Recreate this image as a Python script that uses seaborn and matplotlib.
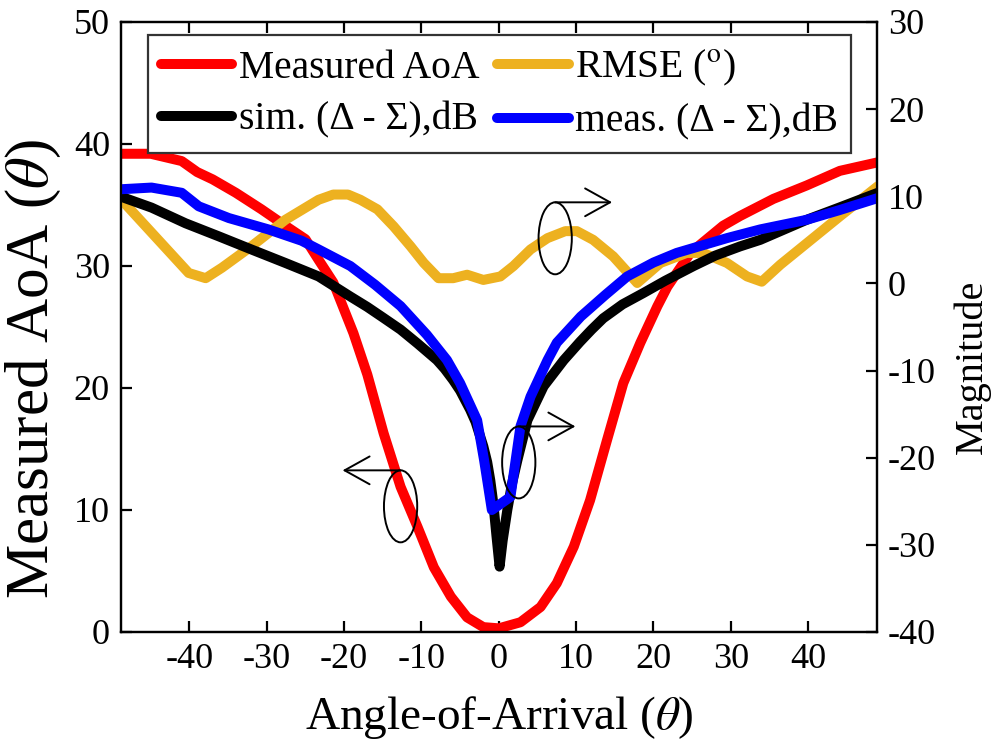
import numpy as np
import pandas as pd
import matplotlib
matplotlib.use('Agg')
import matplotlib.pyplot as plt
import seaborn as sns
from matplotlib.patches import Ellipse
from matplotlib.lines import Line2D

# ---- data ----
aoa_x = [-49, -45, -41, -39, -37, -34, -30.7, -27.6, -25, -23.3, -21.4, -18.8, -17, -14.9,
         -12.7, -10.5, -8.4, -6.2, -4.1, -2, 0, 2.8, 5.4, 7.5, 9.7, 11.8, 14, 16.1, 18.3,
         20.5, 21.8, 24.8, 29, 31.2, 35.5, 39.8, 44.1, 49]
aoa_y = [39.2, 39.2, 38.6, 37.7, 37.1, 36.0, 34.65, 33.3, 32.2, 30.5, 28.65, 24.5, 21.1, 16.3,
         11.9, 8.6, 5.3, 2.9, 1.2, 0.4, 0.3, 0.8, 2.05, 4.0, 7.0, 10.8, 15.75, 20.4, 23.7,
         26.7, 28.3, 31.1, 33.3, 34.1, 35.5, 36.6, 37.8, 38.5]

rmse_x = [-49, -40.1, -37.9, -35.8, -32, -27.6, -23.3, -21.4, -19.5, -17.9, -15.7, -13.6,
          -11.4, -9.7, -7.8, -5.9, -4.1, -2, 0.2, 1.9, 4.1, 6.3, 8.6, 10.1, 12.2, 14.8, 17.9,
          20.9, 24.3, 26.4, 29.5, 32.1, 34, 36.4, 39.8, 44.1, 49]
rmse_y = [9.8, 1.2, 0.6, 1.8, 4.25, 7.3, 9.6, 10.2, 10.2, 9.6, 8.5, 6.55, 4.25, 2.35, 0.6,
          0.6, 1.0, 0.4, 0.8, 2.0, 3.9, 5.2, 6.0, 6.0, 5.0, 3.1, 0.05, 2.35, 3.5, 3.5, 2.35,
          0.8, 0.2, 2.15, 4.6, 7.7, 11.15]

sim_x = [-49, -44.9, -40.5, -36.2, -32, -27.6, -23.3, -19.2, -17, -15, -12.7, -10.5, -8,
         -7, -5.9, -5, -3.7, -3, -2, -1.5, -1.1, -0.7, -0.3, 0.1, 0.5, 1.1, 1.7, 2.4, 3.7,
         5.8, 8.4, 10.5, 12, 13.5, 16, 18.7, 21.5, 25.2, 28, 31.2, 33.8, 39.8, 44, 49]
sim_y = [10.0, 8.7, 6.9, 5.4, 3.9, 2.35, 0.8, -1.5, -2.7, -3.9, -5.3, -6.9, -8.8,
         -9.8, -11.1, -12.3, -14.5, -15.9, -18.7, -20.5, -22.6, -25.3, -29.0, -32.5, -29.5,
         -26.0, -23.0, -20.3, -15.7, -11.8, -8.8, -6.7, -5.3, -4.0, -2.4, -1.1, 0.3, 2.0,
         3.2, 4.25, 5.0, 7.3, 8.7, 10.4]

meas_x = [-49, -44.9, -41, -38.8, -34.9, -29.8, -25.5, -23.3, -19.2, -16, -12.7, -9.3, -6.7,
          -5, -2.8, -1.9, -0.9, 1.5, 2.8, 4.1, 6.3, 7.5, 10.6, 13.8, 16.6, 20, 23, 29.5,
          33.8, 39.8, 44, 49]
meas_y = [10.8, 11.0, 10.4, 8.85, 7.5, 6.2, 4.9, 3.9, 2.0, -0.15, -2.6, -5.9, -8.8,
          -11.45, -15.7, -20.3, -26.0, -24.5, -16.4, -13.0, -8.8, -6.8, -3.8, -1.3, 0.8,
          2.4, 3.5, 5.2, 6.2, 7.3, 8.4, 9.8]

x_ticks = [-40, -30, -20, -10, 0, 10, 20, 30, 40]
left_ticks = [0, 10, 20, 30, 40, 50]
right_ticks = [-40, -30, -20, -10, 0, 10, 20, 30]

labels = ['Measured AoA', 'sim. (\u0394 - \u03a3),dB', 'RMSE ($^{\\rm o}$)',
          'meas. (\u0394 - \u03a3),dB']
colors = {'aoa': '#FF0000', 'rmse': '#EDB120', 'sim': '#000000', 'meas': '#0000FF'}

# ---- style ----
sns.set_style('ticks')
plt.rcParams['font.family'] = ['Liberation Serif', 'DejaVu Serif']
plt.rcParams['mathtext.fontset'] = 'stix'
plt.rcParams['axes.unicode_minus'] = False
for k in ('text.color', 'axes.labelcolor', 'xtick.color', 'ytick.color', 'axes.edgecolor'):
    plt.rcParams[k] = 'black'

LW = 7.2
fig = plt.figure(figsize=(9.97, 7.47), dpi=100)
ax = fig.add_axes([121 / 997, 1 - 632 / 747, 756 / 997, 610 / 747])
ax2 = ax.twinx()

kw = dict(linewidth=LW, solid_joinstyle='round', solid_capstyle='round')
sns.lineplot(x=aoa_x, y=aoa_y, ax=ax, color=colors['aoa'], **kw)
sns.lineplot(x=rmse_x, y=rmse_y, ax=ax2, color=colors['rmse'], **kw)
sns.lineplot(x=sim_x, y=sim_y, ax=ax2, color=colors['sim'], **kw)
sns.lineplot(x=meas_x, y=meas_y, ax=ax2, color=colors['meas'], **kw)

ax.set_xlim(-48.85, 48.9)
ax.set_ylim(0, 50)
ax2.set_ylim(-40, 30)
ax.set_xticks(x_ticks)
ax.set_yticks(left_ticks)
ax2.set_yticks(right_ticks)

ax.tick_params(axis='both', direction='in', length=8, width=1.6, labelsize=26,
               color='black', labelcolor='black')
ax.tick_params(axis='x', top=True, pad=8)
ax.tick_params(axis='y', pad=8)
ax2.tick_params(axis='y', direction='in', length=8, width=1.6, labelsize=26, pad=8,
                color='black', labelcolor='black')
for a in (ax, ax2):
    for s in a.spines.values():
        s.set_linewidth(1.6)
        s.set_color('black')

ax.set_xlabel('Angle-of-Arrival ($\\theta$)', fontsize=34, labelpad=13, color='black')
ax.set_ylabel('Measured AoA ($\\theta$)', fontsize=44, color='black')
ax2.set_ylabel('Magnitude', fontsize=29, color='black')
ax.yaxis.set_label_coords((33 - 121) / 756, (632 - 369) / 610)
ax.yaxis.label.set_verticalalignment('center')
ax2.yaxis.set_label_coords((972 - 121) / 756, (632 - 367) / 610)
ax2.yaxis.label.set_verticalalignment('center')

# ---- legend ----
handles = [Line2D([0], [0], color=colors['aoa'], lw=LW),
           Line2D([0], [0], color=colors['sim'], lw=LW),
           Line2D([0], [0], color=colors['rmse'], lw=LW),
           Line2D([0], [0], color=colors['meas'], lw=LW)]
leg = ax2.legend(handles, labels, ncol=2, loc='upper left',
                 bbox_to_anchor=((148 - 121) / 756, (632 - 35) / 610),
                 borderaxespad=0, fontsize=28.5, frameon=True, fancybox=False,
                 framealpha=1, edgecolor='#333333', handlelength=1.8,
                 handletextpad=0.17, columnspacing=0.45, labelspacing=0.38,
                 borderpad=0.33)
leg.get_frame().set_linewidth(1.6)
for t in leg.get_texts():
    t.set_color('black')

# ---- annotations (ellipses with arrows) ----
def mark(cx, cy, x_end):
    e = Ellipse((cx, cy), width=4.3, height=5.9, fill=False, edgecolor='black',
                lw=1.4, transform=ax.transData, zorder=10)
    ax2.add_patch(e)
    ytop = cy + 5.9 / 2
    ax2.annotate('', xy=(x_end, ytop), xytext=(cx, ytop), xycoords=ax.transData,
                 textcoords=ax.transData,
                 arrowprops=dict(arrowstyle='->,head_length=0.45,head_width=0.25',
                                 lw=1.4, color='black', shrinkA=0, shrinkB=0,
                                 mutation_scale=40), zorder=10)

mark(-12.7, 10.3, -20.2)
mark(2.58, 13.9, 9.9)
mark(7.29, 32.27, 14.65)

fig.savefig('out.png', dpi=100)
